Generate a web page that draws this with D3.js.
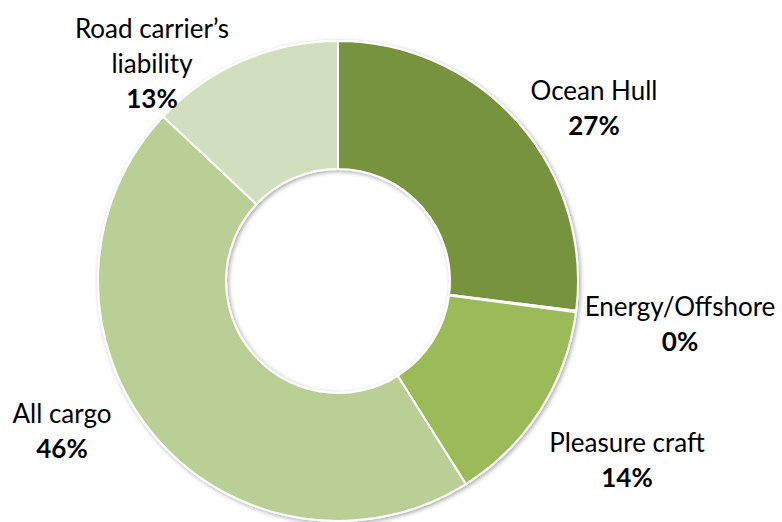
<!DOCTYPE html>
<html>
<head>
<meta charset="utf-8">
<script src="https://cdn.jsdelivr.net/npm/d3@7"></script>
<style>
  html, body { margin: 0; padding: 0; background: #ffffff; }
  svg { display: block; }
  text { font-family: Lato, "Open Sans", "DejaVu Sans", sans-serif; fill: #000; }
</style>
</head>
<body>
<svg id="chart" width="782" height="522"></svg>
<script>
// Marine premium split by line of business
const categories = ["Ocean Hull", "Energy/Offshore", "Pleasure craft", "All cargo", "Road carrier\u2019s liability"];
const shares = [27, 0.1, 14, 46, 13];
const shareLabels = ["27%", "0%", "14%", "46%", "13%"];
const sliceColors = ["#77933C", "#4F6228", "#9BBB59", "#B9CF96", "#D2DFBE"];
const labelLines = [["Ocean Hull"], ["Energy/Offshore"], ["Pleasure craft"], ["All cargo"], ["Road carrier\u2019s", "liability"]];

const W = 782, H = 522;
const cx = 338, cy = 281, outerR = 240, innerR = 112;

const svg = d3.select("#chart");

const defs = svg.append("defs");
const shadow = defs.append("filter").attr("id", "ringShadow")
  .attr("x", "-10%").attr("y", "-10%").attr("width", "120%").attr("height", "120%");
shadow.append("feDropShadow")
  .attr("dx", 1.5).attr("dy", 1.5).attr("stdDeviation", 2)
  .attr("flood-color", "#000").attr("flood-opacity", 0.35);

const data = categories.map((c, i) => ({ name: c, value: shares[i], label: shareLabels[i], color: sliceColors[i], lines: labelLines[i] }));

const pie = d3.pie().value(d => d.value).sort(null);
const arc = d3.arc().innerRadius(innerR).outerRadius(outerR);

const g = svg.append("g").attr("transform", `translate(${cx},${cy})`);

g.append("g").attr("filter", "url(#ringShadow)")
  .selectAll("path")
  .data(pie(data))
  .join("path")
  .attr("d", arc)
  .attr("fill", d => d.data.color)
  .attr("stroke", "#ffffff")
  .attr("stroke-width", 2)
  .attr("stroke-linejoin", "round");

// Label anchor points (name lines followed by the bold share)
const labelPos = [
  { x: 594, y: 100 },
  { x: 680, y: 316 },
  { x: 627, y: 452 },
  { x: 62, y: 423 },
  { x: 152, y: 38 }
];

const lineH = 35;
const fontSize = 26;

data.forEach((d, i) => {
  const p = labelPos[i];
  const t = svg.append("text")
    .attr("text-anchor", "middle")
    .attr("font-size", fontSize);
  d.lines.forEach((ln, j) => {
    t.append("tspan").attr("x", p.x).attr("y", p.y + j * lineH).text(ln);
  });
  t.append("tspan").attr("x", p.x).attr("y", p.y + d.lines.length * lineH)
    .attr("font-weight", "bold").text(d.label);
});
</script>
</body>
</html>
